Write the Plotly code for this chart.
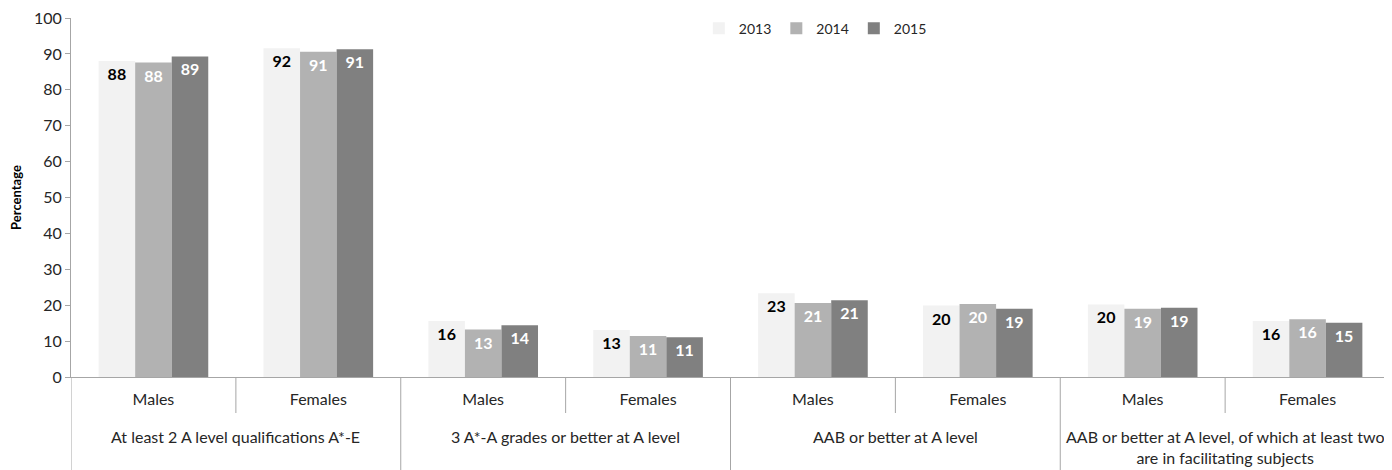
import plotly.graph_objects as go

groups = [
    "At least 2 A level qualifications A*-E",
    "3 A*-A grades or better at A level",
    "AAB or better at A level",
    "AAB or better at A level, of which at least two<br>are in facilitating subjects",
]
sexes = ["Males", "Females"]
years = ["2013", "2014", "2015"]
y_ticks = [0, 10, 20, 30, 40, 50, 60, 70, 80, 90, 100]

v2013 = [88.0, 91.6, 15.6, 13.1, 23.3, 19.9, 20.2, 15.6]
v2014 = [87.6, 90.6, 13.2, 11.4, 20.6, 20.3, 19.0, 16.1]
v2015 = [89.3, 91.3, 14.4, 11.1, 21.4, 19.0, 19.3, 15.1]

colors = ["#F2F2F2", "#B2B2B2", "#808080"]
label_colors = ["#000000", "#FFFFFF", "#FFFFFF"]

FONT = "Lato, 'Open Sans', sans-serif"

positions = list(range(len(groups) * len(sexes)))
tick_text = [s for _ in groups for s in sexes]

fig = go.Figure()
for yr, vals, col, lc in zip(years, [v2013, v2014, v2015], colors, label_colors):
    fig.add_trace(go.Bar(
        x=positions, y=vals, name=yr,
        marker=dict(color=col, line=dict(width=0)),
        texttemplate="%{y:.0f}",
        textposition="inside",
        insidetextanchor="end",
        textangle=0,
        textfont=dict(family=FONT, size=16, color=lc, weight="bold"),
        cliponaxis=False,
    ))

n = len(positions)
W, H = 1384, 462
ML, MR, MT, MB = 63, 2, 10, 93
plot_h = H - MT - MB
bottom_paper = -MB / plot_h
inner_paper = -36 / plot_h

shapes = []
for i in range(n + 1):
    xpos = i - 0.5
    y1 = bottom_paper if i % 2 == 0 else inner_paper
    shapes.append(dict(type="line", xref="x", yref="paper", x0=xpos, x1=xpos,
                       y0=0, y1=y1, line=dict(color="#A6A6A6", width=1)))

annotations = []
for gi, g in enumerate(groups):
    yc = 60 if "<br>" not in g else 70
    annotations.append(dict(
        x=gi * 2 + 0.5, xref="x", y=-yc / plot_h,
        yref="paper", text=g, showarrow=False,
        font=dict(family=FONT, size=16, color="#262626"),
        xanchor="center", yanchor="middle",
    ))

fig.update_layout(
    width=W, height=H,
    margin=dict(l=ML, r=MR, t=MT, b=MB),
    plot_bgcolor="white", paper_bgcolor="white",
    barmode="group", bargap=0.335, bargroupgap=0,
    font=dict(family=FONT, size=16, color="#262626"),
    showlegend=True,
    legend=dict(orientation="h", x=0.476, y=0.97, xanchor="left", yanchor="middle",
                font=dict(family=FONT, size=14, color="#262626"),
                itemwidth=30, tracegroupgap=0, bgcolor="rgba(0,0,0,0)"),
    shapes=shapes,
    annotations=annotations,
)
fig.update_xaxes(
    range=[-0.5, n - 0.5], tickmode="array", tickvals=positions, ticktext=tick_text,
    showline=True, linecolor="#A6A6A6", linewidth=1, ticks="", showgrid=False,
    zeroline=False, tickfont=dict(family=FONT, size=16, color="#262626"), ticklabelstandoff=8,
    automargin=False,
)
fig.update_yaxes(
    range=[0, 100], tickmode="array", tickvals=y_ticks, ticktext=[str(t) for t in y_ticks],
    showline=True, linecolor="#A6A6A6", linewidth=1, ticks="outside", ticklen=5,
    tickcolor="#A6A6A6", showgrid=False, zeroline=False,
    tickfont=dict(family=FONT, size=16, color="#262626"),
    ticklabeloverflow="allow",
    title=dict(text="<b>Percentage</b>", font=dict(family=FONT, size=13, color="#000000"), standoff=9),
    automargin=False,
)

fig.write_html("out.html")
